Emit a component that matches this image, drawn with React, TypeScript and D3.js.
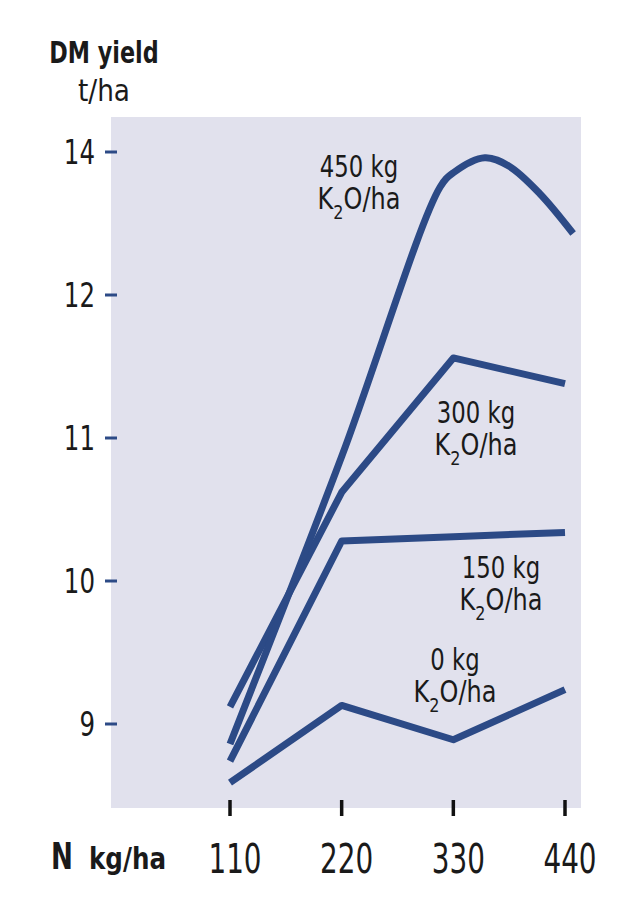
import React from "react";
import * as d3 from "d3";

// N rates (x categories) and yield readings, t/ha
const nRates = [110, 220, 330, 440];
const yTicks = [9, 10, 11, 12, 14];

const k0 = [8.59, 9.13, 8.89, 9.24];
const k150 = [8.74, 10.28, 10.31, 10.34];
const k300 = [9.12, 10.62, 11.56, 11.38];
// the 450 curve is rounded at the top, so it is read at more points
const n450 = [110, 220, 317, 330, 361, 385, 415, 448];
const k450 = [8.86, 10.87, 13.51, 13.71, 13.92, 13.8, 13.42, 12.86];

const series = [
  { name: "0", n: nRates, y: k0, lx: 455, ly: 670, curve: d3.curveLinear },
  { name: "150", n: nRates, y: k150, lx: 501, ly: 578, curve: d3.curveLinear },
  { name: "300", n: nRates, y: k300, lx: 476, ly: 423, curve: d3.curveLinear },
  { name: "450", n: n450, y: k450, lx: 359, ly: 177, curve: d3.curveCatmullRom },
];

const W = 640,
  H = 900;
const panel = { left: 111, right: 581, top: 117, bottom: 808 };

const lineColor = "#2c4a86";
const bg = "#e1e1ed";
const ink = "#1a1a1a";
const font = "'DejaVu Sans', sans-serif";

// condensed text: the reference face is narrow, so squeeze horizontally
const T = ({ x, y, sx = 0.75, anchor = "start", size, bold = false, children }) => (
  <text
    transform={`translate(${x},${y}) scale(${sx},1)`}
    textAnchor={anchor}
    fontSize={size}
    fontWeight={bold ? "bold" : "normal"}
    fill={ink}
  >
    {children}
  </text>
);

const App = () => {
  const x = d3.scaleLinear().domain([110, 440]).range([230, 565]);
  // the axis is drawn with evenly spaced labels, so the scale is piecewise
  const y = d3
    .scaleLinear()
    .domain([9, 10, 11, 12, 14])
    .range([724, 581, 438, 295, 152]);

  const line = (s) =>
    d3
      .line()
      .x((d) => x(d[0]))
      .y((d) => y(d[1]))
      .curve(s.curve)(s.n.map((v, i) => [v, s.y[i]]));

  return (
    <svg
      width={W}
      height={H}
      style={{ position: "absolute", left: 0, top: 0 }}
      fontFamily={font}
    >
      <rect x={0} y={0} width={W} height={H} fill="#fff" />
      <rect
        x={panel.left}
        y={panel.top}
        width={panel.right - panel.left}
        height={panel.bottom - panel.top}
        fill={bg}
      />

      {/* y axis */}
      <T x={104} y={63} anchor="middle" size={31} bold sx={0.72}>
        DM yield
      </T>
      <T x={104} y={101} anchor="middle" size={31} sx={0.85}>
        t/ha
      </T>
      {yTicks.map((t) => (
        <g key={t}>
          <line x1={105} x2={117} y1={y(t)} y2={y(t)} stroke={lineColor} strokeWidth={3} />
          <T x={95} y={y(t) + 12} anchor="end" size={34} sx={0.72}>
            {t}
          </T>
        </g>
      ))}

      {/* x axis */}
      {nRates.map((t) => (
        <g key={t}>
          <line x1={x(t)} x2={x(t)} y1={800} y2={816} stroke="#111" strokeWidth={3.5} />
          <T x={x(t) + 5} y={873} anchor="middle" size={41} sx={0.68}>
            {t}
          </T>
        </g>
      ))}
      <T x={51} y={869} size={38} bold sx={0.69}>
        N
      </T>
      <T x={89} y={869} size={30} bold sx={0.82}>
        kg/ha
      </T>

      {/* curves */}
      {series.map((s) => (
        <path
          key={s.name}
          d={line(s)}
          fill="none"
          stroke={lineColor}
          strokeWidth={7}
          strokeLinejoin="round"
        />
      ))}

      {/* curve labels */}
      {series.map((s) => (
        <g key={"l" + s.name}>
          <T x={s.lx} y={s.ly} anchor="middle" size={30} sx={0.76}>
            {s.name} kg
          </T>
          <T x={s.lx} y={s.ly + 32} anchor="middle" size={30} sx={0.8}>
            <tspan>K</tspan>
            <tspan fontSize={20} dy={10}>
              2
            </tspan>
            <tspan dy={-10}>O/ha</tspan>
          </T>
        </g>
      ))}
    </svg>
  );
};

export default App;
